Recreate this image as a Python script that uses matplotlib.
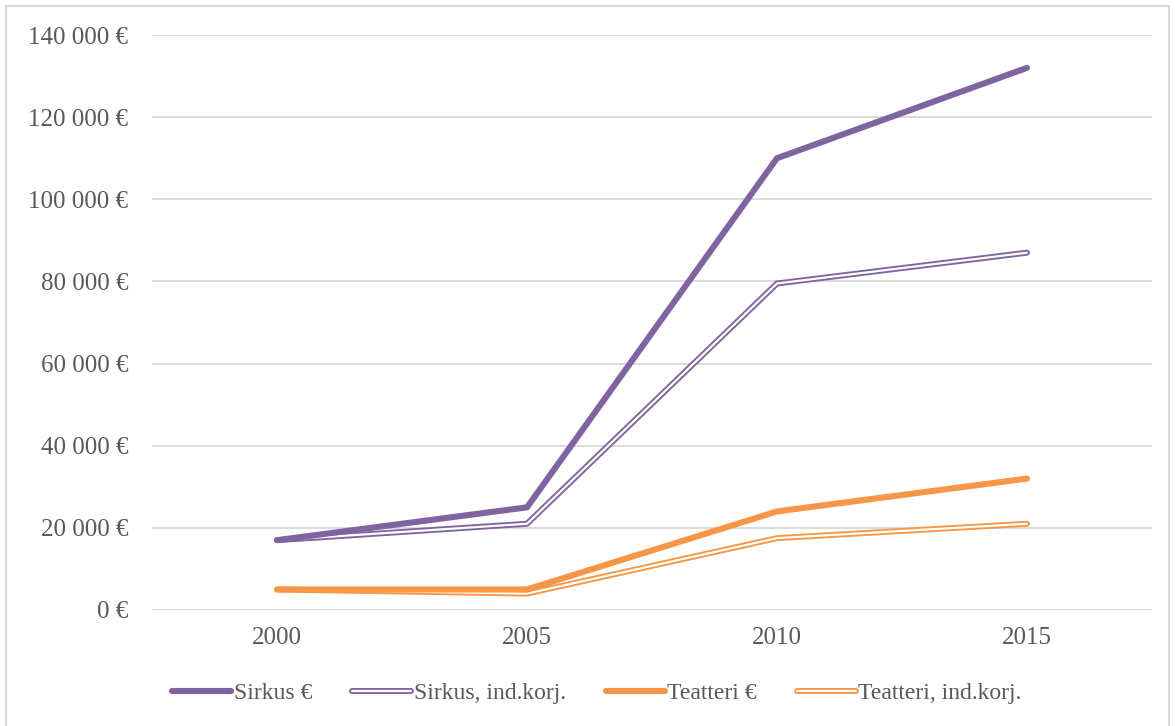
import matplotlib.pyplot as plt
from matplotlib.lines import Line2D
from matplotlib.legend_handler import HandlerTuple
from matplotlib.patches import Rectangle
from matplotlib.ticker import FuncFormatter

years = ['2000', '2005', '2010', '2015']
sirkus = [17000, 25000, 110000, 132000]
sirkus_korj = [17000, 21000, 79500, 87000]
teatteri = [5000, 5000, 24000, 32000]
teatteri_korj = [5000, 4000, 17500, 21000]

purple = '#8064A2'
orange = '#F79646'
text_col = '#595959'

plt.rcParams['font.family'] = ['Liberation Serif', 'DejaVu Serif']

fig = plt.figure(figsize=(11.75, 7.26), dpi=100)
ax = fig.add_axes([152 / 1175, 116 / 726, 1000 / 1175, 575 / 726])

x = range(len(years))
caps = dict(solid_capstyle='round', solid_joinstyle='round')
thick, outer, inner = 4.4, 4.3, 1.6

# double lines: colored line with a thin white line on top
ax.plot(x, teatteri_korj, color=orange, lw=outer, zorder=3, **caps)
ax.plot(x, teatteri_korj, color='white', lw=inner, zorder=3, **caps)
ax.plot(x, teatteri, color=orange, lw=thick, zorder=3, **caps)
ax.plot(x, sirkus_korj, color=purple, lw=outer, zorder=3, **caps)
ax.plot(x, sirkus_korj, color='white', lw=inner, zorder=3, **caps)
ax.plot(x, sirkus, color=purple, lw=thick, zorder=3, **caps)

ax.set_xlim(-0.5, 3.5)
ax.set_ylim(0, 140000)
ax.set_yticks(range(0, 140001, 20000))
ax.set_xticks(list(x))
ax.set_xticklabels(years)
ax.yaxis.set_major_formatter(FuncFormatter(lambda v, p: f'{int(v):,} €'.replace(',', ' ')))
ax.grid(axis='y', color='#D9D9D9', lw=1.3)
ax.set_axisbelow(True)
for s in ax.spines.values():
    s.set_visible(False)
ax.tick_params(length=0, labelsize=18, colors=text_col)
ax.tick_params(axis='y', pad=17)
ax.tick_params(axis='x', pad=12)

h1 = Line2D([], [], color=purple, lw=thick, **caps)
h2 = (Line2D([], [], color=purple, lw=outer, **caps), Line2D([], [], color='white', lw=inner, **caps))
h3 = Line2D([], [], color=orange, lw=thick, **caps)
h4 = (Line2D([], [], color=orange, lw=outer, **caps), Line2D([], [], color='white', lw=inner, **caps))
leg = fig.legend([h1, h2, h3, h4],
                 ['Sirkus €', 'Sirkus, ind.korj.', 'Teatteri €', 'Teatteri, ind.korj.'],
                 handler_map={tuple: HandlerTuple(ndivide=1, pad=0)},
                 loc='center', bbox_to_anchor=(0.508, 33 / 726), ncol=4, frameon=False,
                 fontsize=17, handlelength=2.5, handletextpad=0.1, columnspacing=1.7)
for t in leg.get_texts():
    t.set_color(text_col)

fig.add_artist(Rectangle((6 / 1175, -0.01), 1163 / 1175, 0.01 + 720 / 726,
                         transform=fig.transFigure, fill=False, ec='#D9D9D9', lw=1.5))

fig.savefig('out.png', dpi=100)
